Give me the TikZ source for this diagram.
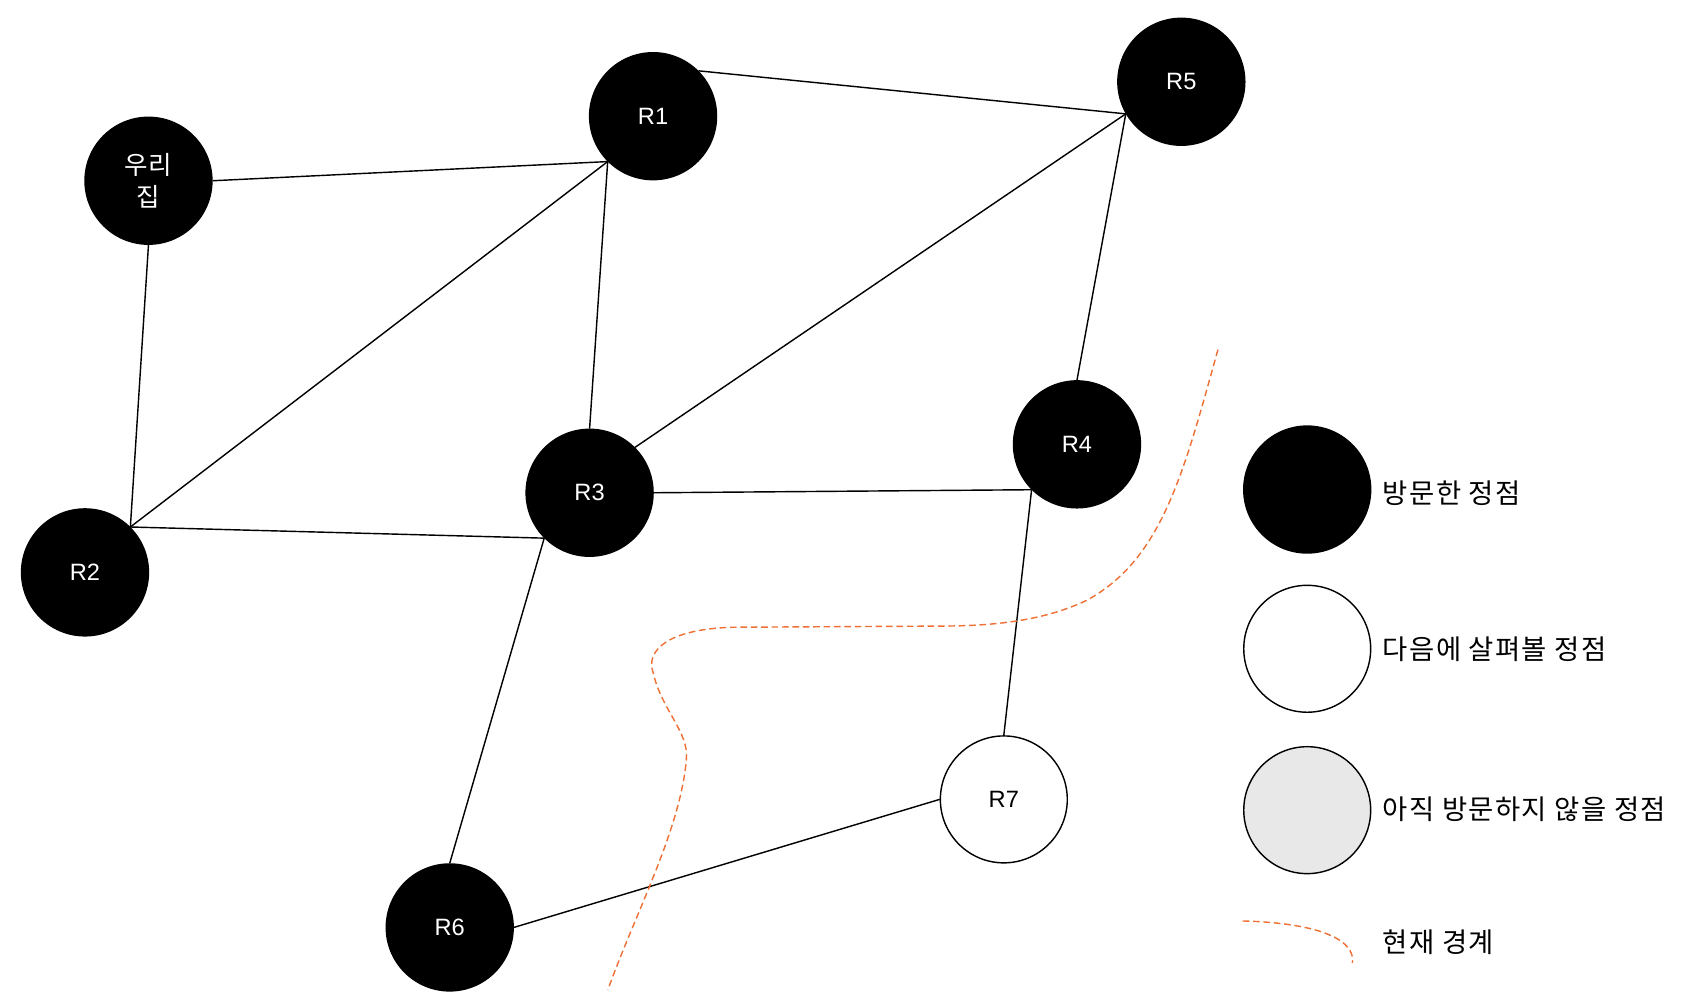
\documentclass[tikz,border=0pt]{standalone}
\usepackage{fontspec}
\setmainfont{Liberation Sans}
\newfontfamily\kr{Noto Sans CJK KR}
\newfontfamily\krwide{Noto Sans CJK KR}[LetterSpace=5]
\definecolor{frontier}{RGB}{238,112,52}
\definecolor{unseen}{RGB}{232,232,232}
\tikzset{
    vertex/.style={circle, draw=black, line width=0.75pt, minimum size=2.36cm, inner sep=0pt, font=\fontsize{12.5}{15}\selectfont},
    visited/.style={vertex, fill=black, text=white},
    nextup/.style={vertex, fill=white, text=black},
    notyet/.style={vertex, fill=unseen},
    road/.style={line width=0.75pt},
    border/.style={frontier, line width=0.75pt, dash pattern=on 3.5pt off 2pt},
    legendtext/.style={anchor=west, inner sep=0pt, font=\krwide\fontsize{14.5}{17}\selectfont}
}
\begin{document}
\begin{tikzpicture}[x=0.02cm, y=-0.02cm]
    \useasboundingbox (0,0) rectangle (1568,926);

    % Vertices
    \node[visited, align=center, font=\kr\fontsize{13.5}{16.5}\selectfont] (home) at (138,168) {우리\\집};
    \node[visited] (r1) at (607,108) {R1};
    \node[visited] (r5) at (1098,76) {R5};
    \node[visited] (r2) at (79,532) {R2};
    \node[visited] (r3) at (548,458) {R3};
    \node[visited] (r4) at (1001,413) {R4};
    \node[nextup] (r7) at (933,743) {R7};
    \node[visited] (r6) at (418,862) {R6};

    % Roads
    \draw[road] (home.east) -- (r1.south west);
    \draw[road] (home.south) -- (r2.north east);
    \draw[road] (r1.south west) -- (r2.north east);
    \draw[road] (r1.south west) -- (r3.north);
    \draw[road] (r1.north east) -- (r5.210);
    \draw[road] (r5.210) -- (r3.north east);
    \draw[road] (r5.210) -- (r4.north);
    \draw[road] (r2.north east) -- (r3.south west);
    \draw[road] (r3.east) -- (r4.south west);
    \draw[road] (r4.south west) -- (r7.north);
    \draw[road] (r3.south west) -- (r6.north);
    \draw[road] (r6.east) -- (r7.west);

    % Current frontier
    \draw[border] (1132,325) .. controls (1100,440) and (1080,520) .. (1010,558)
        .. controls (960,582) and (900,582) .. (860,582) -- (680,583)
        .. controls (620,585) and (600,605) .. (607,625)
        .. controls (615,660) and (640,680) .. (638,705)
        .. controls (633,770) and (590,850) .. (565,920);

    % Legend
    \node[visited] (keyvisited) at (1215,455) {};
    \node[nextup] (keynext) at (1215,603) {};
    \node[notyet] (keyunseen) at (1215,753) {};
    \node[legendtext] (txtvisited) at (1285,458) {방문한 정점};
    \node[legendtext] (txtnext) at (1285,603) {다음에 살펴볼 정점};
    \node[legendtext] (txtunseen) at (1285,752) {아직 방문하지 않을 정점};
    \draw[border] (1155,856) .. controls (1230,858) and (1260,875) .. (1257,895);
    \node[legendtext] (txtborder) at (1285,876) {현재 경계};
\end{tikzpicture}
\end{document}
